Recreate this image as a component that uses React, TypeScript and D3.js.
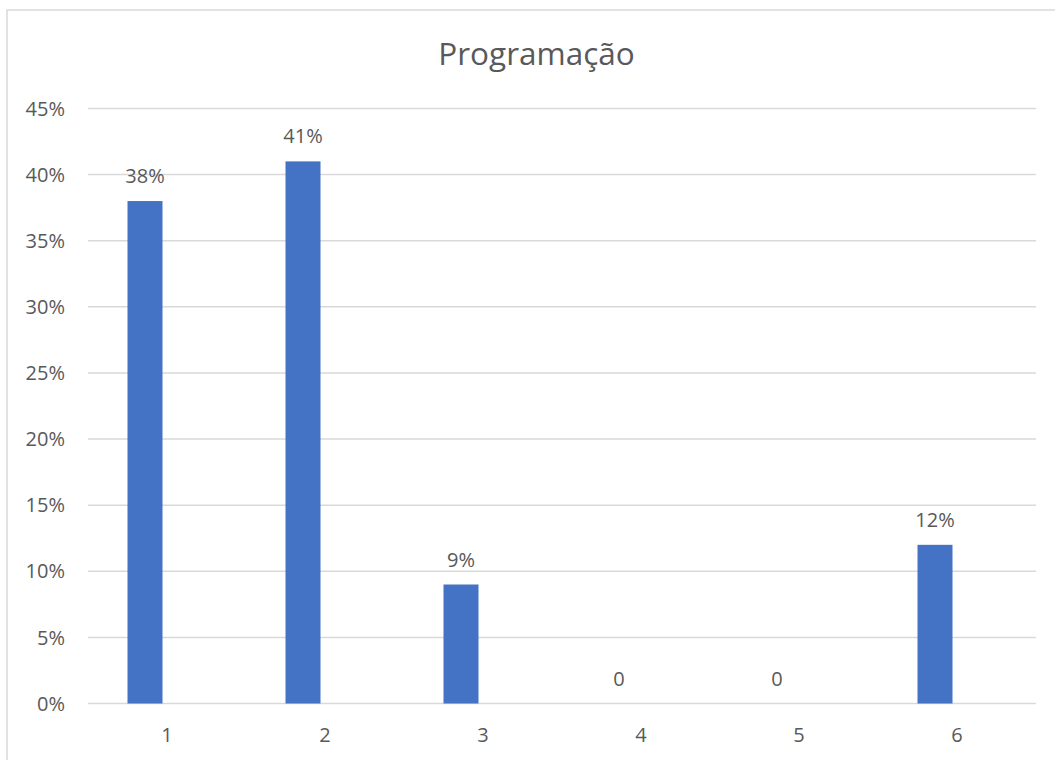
import React from "react";
import * as d3 from "d3";

const categories = ["1", "2", "3", "4", "5", "6"];
const values = [38, 41, 9, 0, 0, 12];
const valueLabels = ["38%", "41%", "9%", "0", "0", "12%"];
const yTicks = [0, 5, 10, 15, 20, 25, 30, 35, 40, 45];
const title = "Programação";

const W = 1055;
const H = 760;
const font = "'Open Sans', 'Noto Sans', sans-serif";
const textColor = "#595959";

export default function App() {
  const left = 88;
  const right = 1036;
  const top = 108.5;
  const bottom = 703.5;

  const x = d3.scaleBand<string>().domain(categories).range([left, right]).paddingInner(0).paddingOuter(0);
  const y = d3.scaleLinear().domain([0, 45]).range([bottom, top]);
  const barW = 35;
  const barOffset = -22;

  return (
    <svg width={W} height={H} style={{ position: "absolute", left: 0, top: 0, background: "#fff" }}>
      <rect x={7} y={10} width={1070} height={780} fill="#fff" stroke="#d9d9d9" strokeWidth={1.5} />
      <text x={536.5} y={65} textAnchor="middle" fontFamily={font} fontSize={31.5} fill={textColor}>
        {title}
      </text>
      {yTicks.map((t) => (
        <g key={t}>
          <line x1={left} x2={right} y1={y(t)} y2={y(t)} stroke="#d9d9d9" strokeWidth={1.5} />
          <text x={65} y={y(t)} dy="0.36em" textAnchor="end" fontFamily={font} fontSize={20} fill={textColor}>
            {t + "%"}
          </text>
        </g>
      ))}
      {categories.map((c, i) => {
        const cx = (x(c) as number) + x.bandwidth() / 2;
        const bx = cx + barOffset;
        return (
          <g key={c}>
            {values[i] > 0 && (
              <rect x={bx - barW / 2} y={y(values[i])} width={barW} height={bottom - y(values[i])} fill="#4472C4" />
            )}
            <text x={bx} y={y(values[i]) - 18} textAnchor="middle" fontFamily={font} fontSize={20} fill={textColor}>
              {valueLabels[i]}
            </text>
            <text x={cx} y={742} textAnchor="middle" fontFamily={font} fontSize={20} fill={textColor}>
              {c}
            </text>
          </g>
        );
      })}
    </svg>
  );
}
